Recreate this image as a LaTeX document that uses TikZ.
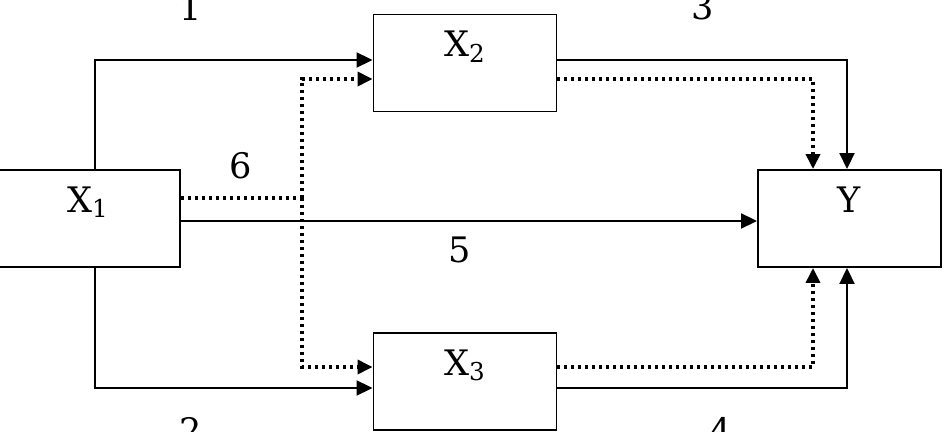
\documentclass[tikz,border=0pt]{standalone}
\usepackage{fontspec}
\setmainfont{DejaVu Serif}
\usepackage{tikz}
\usetikzlibrary{arrows.meta, positioning, calc}

\begin{document}
\begin{tikzpicture}[
    x=0.02cm, y=-0.02cm,
    block/.style={rectangle, draw, line width=1.1pt, minimum width=3.66cm, minimum height=1.94cm, inner sep=0pt},
    lbl/.style={anchor=north, inner sep=0pt, yshift=-0.34cm, font=\fontsize{20}{24}\selectfont},
    num/.style={inner sep=0pt, font=\fontsize{20}{24}\selectfont},
    arrow/.style={-{Triangle[length=0.32cm, width=0.3cm]}, line width=1.1pt},
    dotline/.style={line width=2pt, dash pattern=on 0.06cm off 0.08cm},
    dotarrow/.style={dotline, -{Triangle[length=0.3cm, width=0.28cm]}}
]
\useasboundingbox (0,0) rectangle (944,432);

% Blocks
\node[block, minimum width=3.68cm, label={[lbl]north:X\textsubscript{1}}] (x1) at (88,218.5) {};
\node[block, label={[lbl]north:X\textsubscript{2}}] (x2) at (465,63) {};
\node[block, label={[lbl]north:X\textsubscript{3}}] (x3) at (465,381.5) {};
\node[block, label={[lbl]north:Y}] (y) at (849.5,218.5) {};

% Path numbers
\node[num] (n1) at (191,7) {1};
\node[num] (n2) at (191,430) {2};
\node[num] (n3) at (703,7) {3};
\node[num] (n4) at (721,430) {4};
\node[num] (n5) at (460,250) {5};
\node[num] (n6) at (241,166) {6};

% Solid arrows
\draw[arrow] ([xshift=0.14cm]x1.north) |- ([yshift=0.06cm]x2.west);
\draw[arrow] ([xshift=0.14cm]x1.south) |- ([yshift=-0.13cm]x3.west);
\draw[arrow] ([yshift=-0.05cm]x1.east) -- ([yshift=-0.05cm]x1.east -| y.west);
\draw[arrow] ([yshift=0.06cm]x2.east) -| ([xshift=-0.05cm]y.north);
\draw[arrow] ([yshift=-0.13cm]x3.east) -| ([xshift=-0.05cm]y.south);

% Dotted arrows
\coordinate (j6) at (302,198);
\draw[dotline] (x1.east |- j6) -- (j6);
\draw[dotarrow] (j6) |- ([yshift=-0.32cm]x2.west);
\draw[dotarrow] (j6) |- ([yshift=0.29cm]x3.west);
\draw[dotarrow] ([yshift=-0.32cm]x2.east) -| ([xshift=-0.73cm]y.north);
\draw[dotarrow] ([yshift=0.29cm]x3.east) -| ([xshift=-0.73cm]y.south);
\end{tikzpicture}
\end{document}
